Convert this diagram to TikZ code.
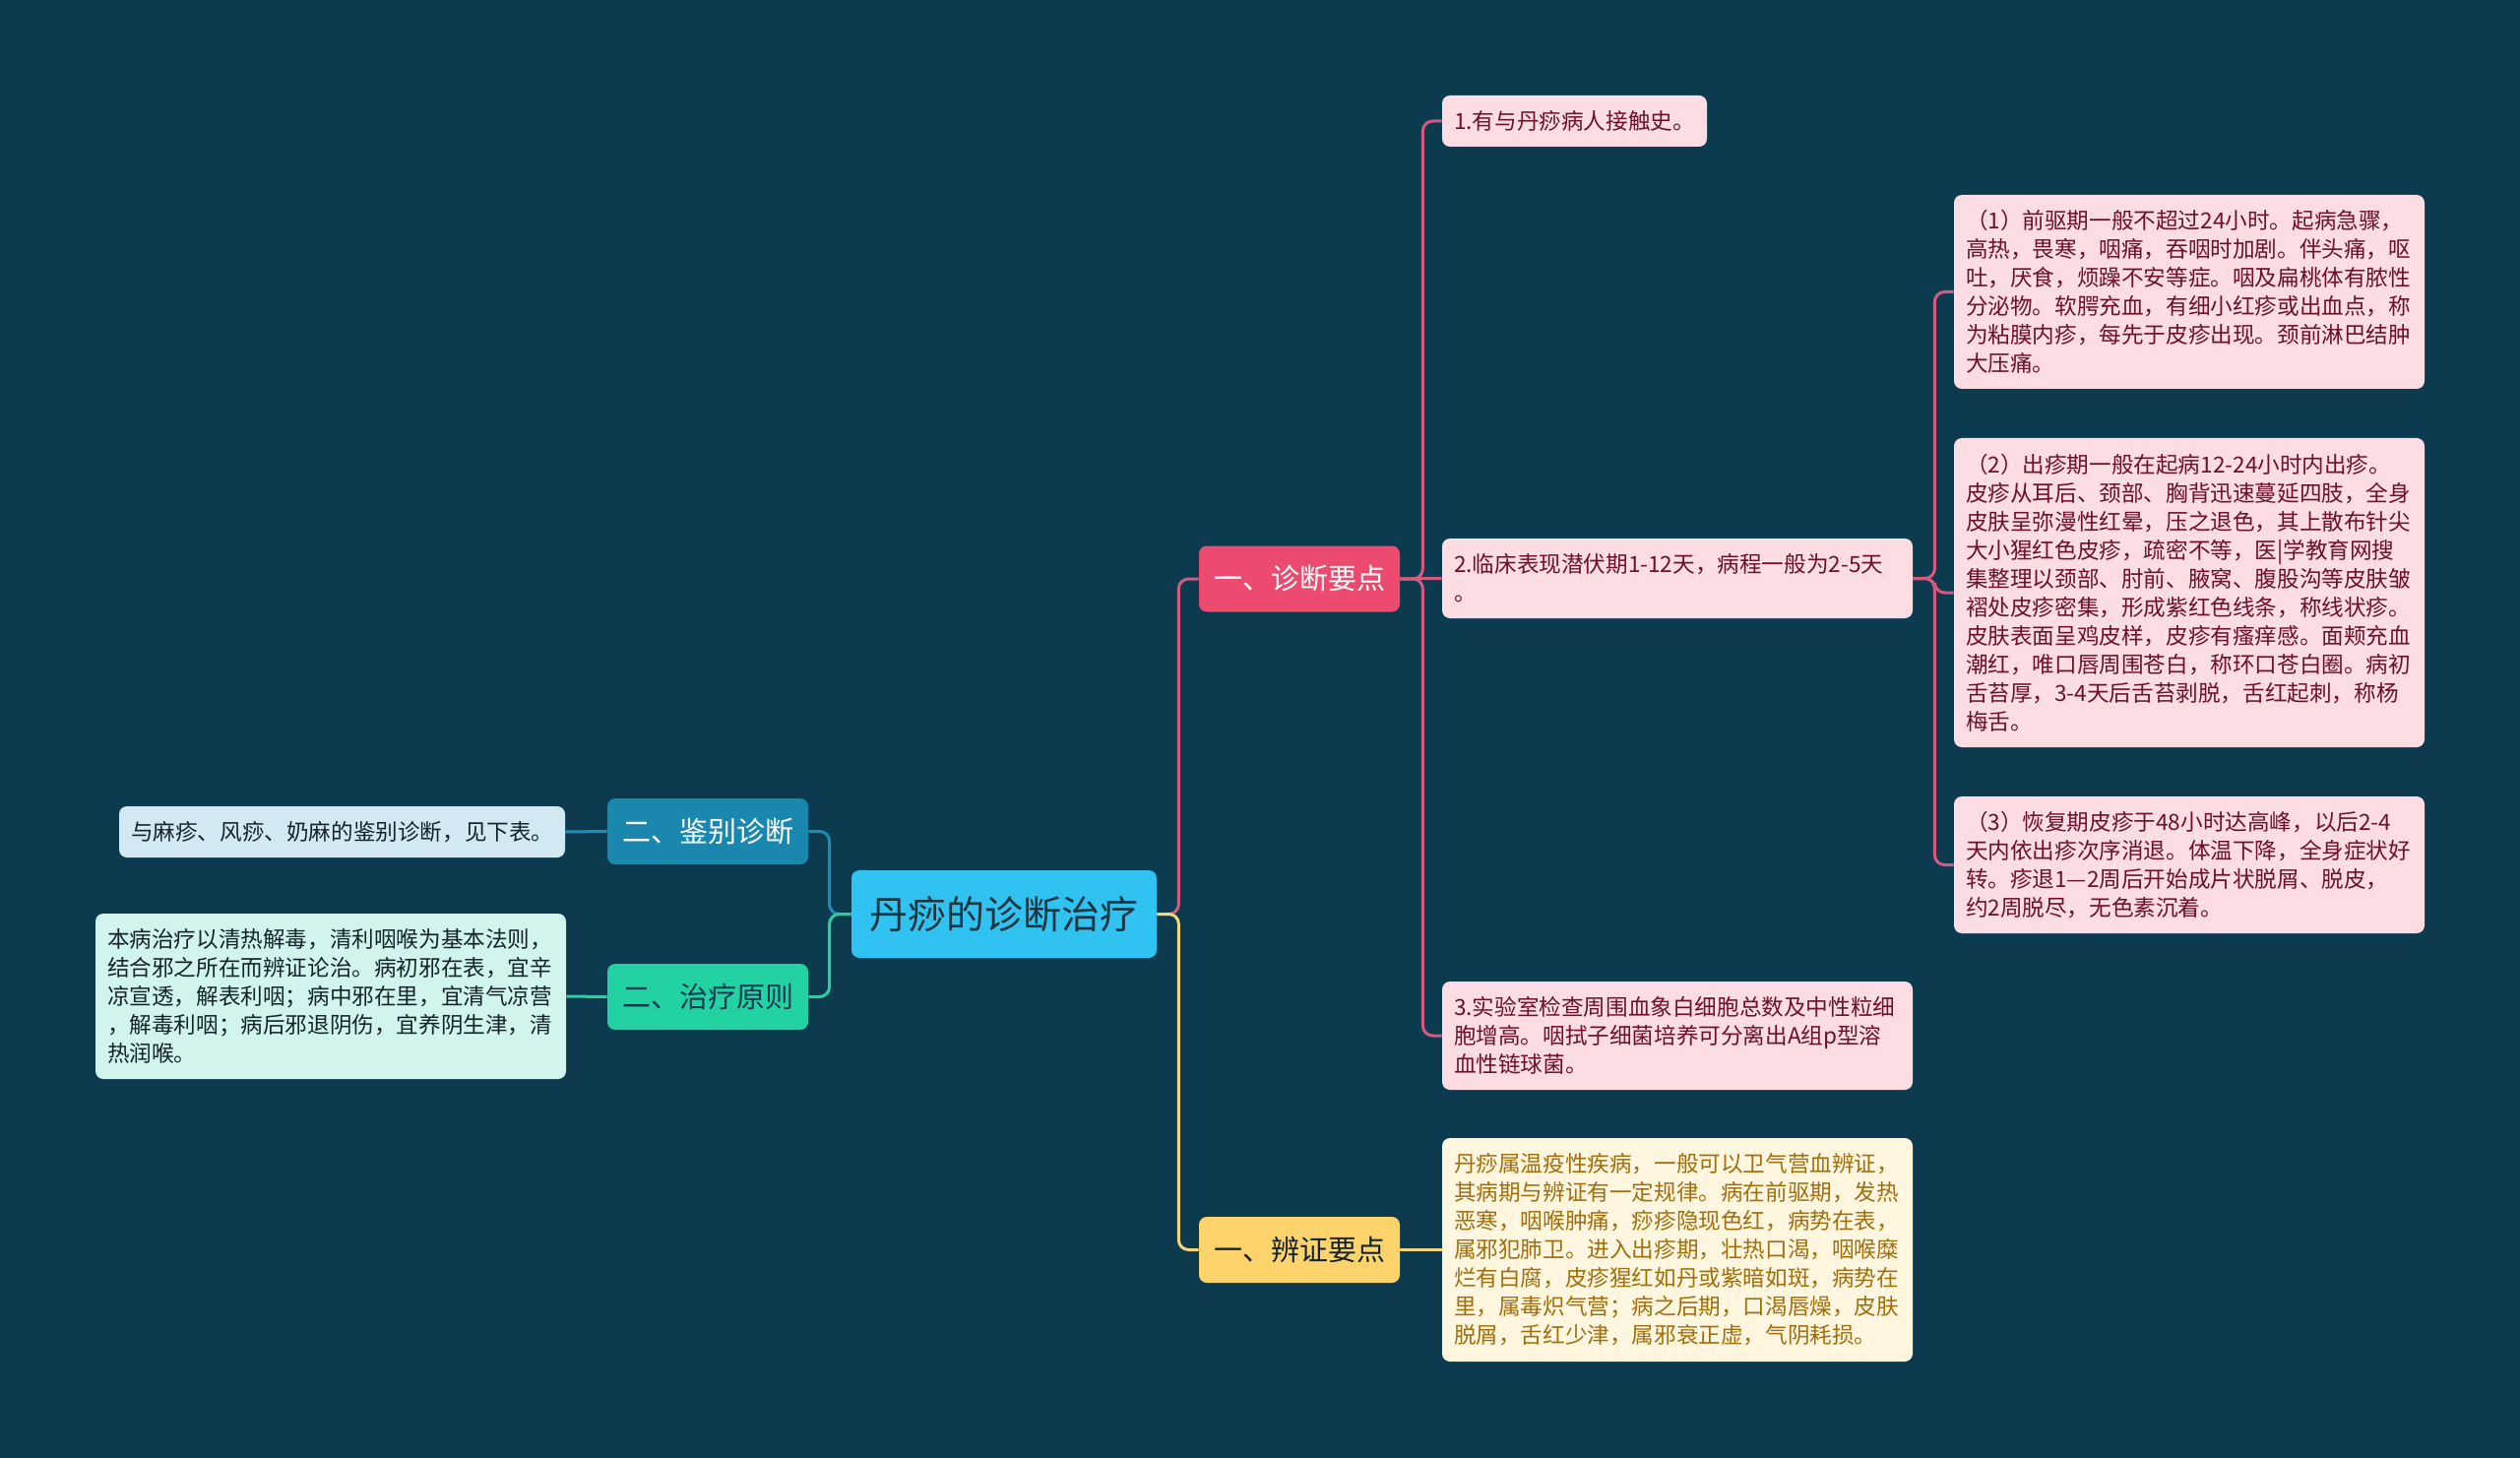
\documentclass[tikz,border=0pt]{standalone}
\usepackage{fontspec}
\setmainfont{Noto Sans CJK SC}
\definecolor{bg}{HTML}{0C3A4F}
\definecolor{rootfill}{HTML}{30C3F1}
\definecolor{roottext}{HTML}{1D3540}
\definecolor{pinkfill}{HTML}{EC4A6E}
\definecolor{pinkline}{HTML}{D45A80}
\definecolor{pinkleaf}{HTML}{FCDDE3}
\definecolor{pinktext}{HTML}{6E0F2D}
\definecolor{yelfill}{HTML}{FDD46C}
\definecolor{yelline}{HTML}{F5D67A}
\definecolor{yelleaf}{HTML}{FFF6DF}
\definecolor{yeltext}{HTML}{A26E0C}
\definecolor{bluefill}{HTML}{1A87AF}
\definecolor{blueline}{HTML}{1E8DB5}
\definecolor{blueleaf}{HTML}{D2E9F1}
\definecolor{greenfill}{HTML}{22D2A2}
\definecolor{greenline}{HTML}{2ACFA0}
\definecolor{greenleaf}{HTML}{D1F5EC}
\definecolor{darktext}{HTML}{14232B}
\tikzset{
  box/.style={rounded corners=4pt, inner xsep=6pt, inner ysep=0pt, anchor=center},
  leafbox/.style={box, align=left, font=\fontsize{11.3}{14.5}\selectfont},
  branchbox/.style={box, align=center, minimum width=102pt, minimum height=33.5pt, font=\fontsize{14.5}{17}\selectfont},
  conn/.style={line width=1.5pt, rounded corners=5pt},
}
\begin{document}
\begin{tikzpicture}[x=0.5pt,y=-0.5pt]
\useasboundingbox (0,0) rectangle (2560,1481);
\fill[bg] (0,0) rectangle (2560,1481);

% root
\node[box, fill=rootfill, text=roottext, align=center, minimum width=155pt, minimum height=44.5pt, font=\fontsize{19.5}{22}\selectfont] (root) at (1020,928.5) {丹痧的诊断治疗};

% main branches
\node[branchbox, fill=pinkfill, text=white] (diag) at (1320,588) {一、诊断要点};
\node[branchbox, fill=yelfill, text=darktext] (bianz) at (1320,1269.5) {一、辨证要点};
\node[branchbox, fill=bluefill, text=white] (jianbie) at (719,844.5) {二、鉴别诊断};
\node[branchbox, fill=greenfill, text=bg] (zhiliao) at (719,1012.5) {二、治疗原则};

% right leaves
\node[leafbox, fill=pinkleaf, text=pinktext, text width=122.5pt, minimum height=26pt] (r1) at (1599.5,123) {1.有与丹痧病人接触史。};
\node[leafbox, fill=pinkleaf, text=pinktext, text width=227pt, minimum height=40.5pt] (r2) at (1704,587.5) {2.临床表现潜伏期1-12天，病程一般为2-5天\\。};
\node[leafbox, fill=pinkleaf, text=pinktext, text width=227pt, minimum height=55pt] (r3) at (1704,1052) {3.实验室检查周围血象白细胞总数及中性粒细\\胞增高。咽拭子细菌培养可分离出A组p型溶\\血性链球菌。};
\node[leafbox, fill=yelleaf, text=yeltext, text width=227pt, minimum height=113.5pt] (y1) at (1704,1269.5) {丹痧属温疫性疾病，一般可以卫气营血辨证，\\其病期与辨证有一定规律。病在前驱期，发热\\恶寒，咽喉肿痛，痧疹隐现色红，病势在表，\\属邪犯肺卫。进入出疹期，壮热口渴，咽喉糜\\烂有白腐，皮疹猩红如丹或紫暗如斑，病势在\\里，属毒炽气营；病之后期，口渴唇燥，皮肤\\脱屑，舌红少津，属邪衰正虚，气阴耗损。};

% sub leaves
\node[leafbox, fill=pinkleaf, text=pinktext, text width=227pt, minimum height=98.5pt] (s1) at (2224,296.5) {（1）前驱期一般不超过24小时。起病急骤，\\高热，畏寒，咽痛，吞咽时加剧。伴头痛，呕\\吐，厌食，烦躁不安等症。咽及扁桃体有脓性\\分泌物。软腭充血，有细小红疹或出血点，称\\为粘膜内疹，每先于皮疹出现。颈前淋巴结肿\\大压痛。};
\node[leafbox, fill=pinkleaf, text=pinktext, text width=227pt, minimum height=157pt] (s2) at (2224,602) {（2）出疹期一般在起病12-24小时内出疹。\\皮疹从耳后、颈部、胸背迅速蔓延四肢，全身\\皮肤呈弥漫性红晕，压之退色，其上散布针尖\\大小猩红色皮疹，疏密不等，医|学教育网搜\\集整理以颈部、肘前、腋窝、腹股沟等皮肤皱\\褶处皮疹密集，形成紫红色线条，称线状疹。\\皮肤表面呈鸡皮样，皮疹有瘙痒感。面颊充血\\潮红，唯口唇周围苍白，称环口苍白圈。病初\\舌苔厚，3-4天后舌苔剥脱，舌红起刺，称杨\\梅舌。};
\node[leafbox, fill=pinkleaf, text=pinktext, text width=227pt, minimum height=69.5pt] (s3) at (2224,878.5) {（3）恢复期皮疹于48小时达高峰，以后2-4\\天内依出疹次序消退。体温下降，全身症状好\\转。疹退1—2周后开始成片状脱屑、脱皮，\\约2周脱尽，无色素沉着。};

% left leaves
\node[leafbox, fill=blueleaf, text=darktext, text width=214.5pt, minimum height=26pt] (l1) at (347.5,845) {与麻疹、风痧、奶麻的鉴别诊断，见下表。};
\node[leafbox, fill=greenleaf, text=darktext, text width=227pt, minimum height=84pt] (l2) at (336,1012) {本病治疗以清热解毒，清利咽喉为基本法则，\\结合邪之所在而辨证论治。病初邪在表，宜辛\\凉宣透，解表利咽；病中邪在里，宜清气凉营\\，解毒利咽；病后邪退阴伤，宜养阴生津，清\\热润喉。};

% connectors
\draw[conn, pinkline] (root.east) -- ([xshift=11pt]root.east) |- (diag.west);
\draw[conn, yelline] (root.east) -- ([xshift=11pt]root.east) |- (bianz.west);
\draw[conn, blueline] (root.west) -- ([xshift=-11pt]root.west) |- (jianbie.east);
\draw[conn, greenline] (root.west) -- ([xshift=-11pt]root.west) |- (zhiliao.east);

\draw[conn, pinkline] (diag.east) -- ([xshift=11.5pt]diag.east) |- (r1.west);
\draw[conn, pinkline] (diag.east) -- (r2.west);
\draw[conn, pinkline] (diag.east) -- ([xshift=11.5pt]diag.east) |- (r3.west);

\draw[conn, pinkline] (r2.east) -- ([xshift=11pt]r2.east) |- (s1.west);
\draw[conn, pinkline] (r2.east) -- ([xshift=11pt]r2.east) |- (s2.west);
\draw[conn, pinkline] (r2.east) -- ([xshift=11pt]r2.east) |- (s3.west);

\draw[conn, yelline] (bianz.east) -- (y1.west);
\draw[conn, blueline] (jianbie.west) -- (l1.east);
\draw[conn, greenline] (zhiliao.west) -- (l2.east);
\end{tikzpicture}
\end{document}
